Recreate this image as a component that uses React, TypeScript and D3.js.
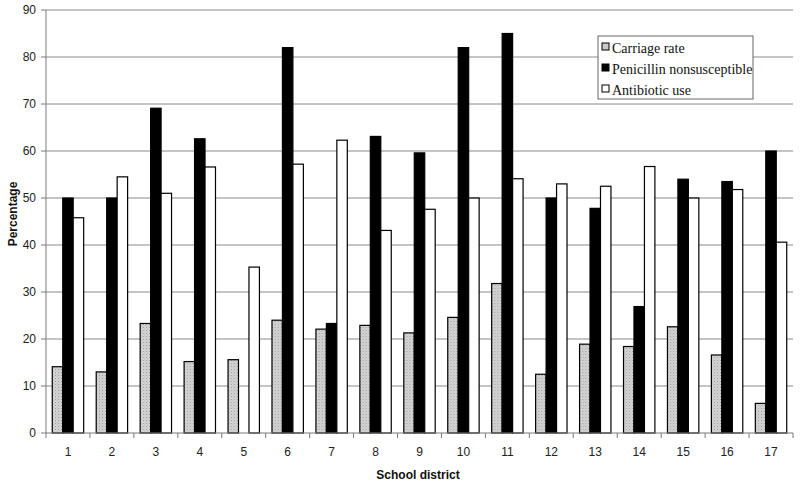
import React from "react";
import * as d3 from "d3";

const districts = ["1","2","3","4","5","6","7","8","9","10","11","12","13","14","15","16","17"];
const seriesNames = ["Carriage rate", "Penicillin nonsusceptible", "Antibiotic use"];
const carriageRate = [14.1, 13.0, 23.3, 15.2, 15.6, 24.0, 22.1, 22.9, 21.3, 24.6, 31.8, 12.5, 18.9, 18.4, 22.6, 16.6, 6.3];
const penicillinNonsusceptible = [50, 50, 69.1, 62.6, 0, 82, 23.3, 63.1, 59.6, 82, 85, 50, 47.8, 26.9, 54, 53.5, 60];
const antibioticUse = [45.8, 54.5, 51.0, 56.6, 35.3, 57.2, 62.3, 43.1, 47.6, 50, 54.1, 53, 52.5, 56.7, 50, 51.8, 40.6];
const yTicks = [0, 10, 20, 30, 40, 50, 60, 70, 80, 90];

const fills = ["#c9c9c9", "#000000", "#ffffff"];

export default function App() {
  const W = 800, H = 484;
  const left = 46, right = 793, top = 10, bottom = 433;
  const x0 = d3.scaleBand<string>().domain(districts).range([left, right]).paddingInner(0).paddingOuter(0);
  const x1 = d3.scaleBand<string>().domain(seriesNames).range([0, x0.bandwidth()]).paddingInner(0).paddingOuter(0.6);
  const y = d3.scaleLinear().domain([0, 90]).range([bottom, top]);
  const seriesData = [carriageRate, penicillinNonsusceptible, antibioticUse];

  const tickXs = d3.range(districts.length + 1).map(i => left + i * x0.step());

  return (
    <svg width={W} height={H} style={{ position: "absolute", left: 0, top: 0, background: "#fff" }}>
      <defs>
        <pattern id="stipple" width="3" height="3" patternUnits="userSpaceOnUse">
          <rect width="3" height="3" fill="#d6d6d6" />
          <rect x="0" y="0" width="1" height="1" fill="#9a9a9a" />
          <rect x="1.5" y="1.5" width="1" height="1" fill="#b0b0b0" />
        </pattern>
      </defs>
      {/* gridlines */}
      {yTicks.filter(t => t > 0).map(t => (
        <line key={t} x1={left} x2={right} y1={y(t)} y2={y(t)} stroke="#8a8a8a" strokeWidth={1} />
      ))}
      {/* bars */}
      {districts.map((d, i) => (
        <g key={d} transform={`translate(${x0(d)},0)`}>
          {seriesNames.map((s, j) => {
            const v = seriesData[j][i];
            if (!v) return null;
            return (
              <rect key={s} x={x1(s)} y={y(v)} width={x1.bandwidth()} height={y(0) - y(v)}
                fill={j === 0 ? "url(#stipple)" : fills[j]} stroke="#000" strokeWidth={1.2} />
            );
          })}
        </g>
      ))}
      {/* axes */}
      <line x1={left} x2={left} y1={top} y2={bottom} stroke="#7a7a7a" strokeWidth={1} />
      <line x1={left} x2={right} y1={bottom} y2={bottom} stroke="#7a7a7a" strokeWidth={1} />
      {yTicks.map(t => (
        <g key={t}>
          <line x1={left - 5} x2={left} y1={y(t)} y2={y(t)} stroke="#7a7a7a" />
          <text x={36} y={y(t)} dy="0.35em" textAnchor="end" fontFamily="Liberation Sans, Arial, sans-serif" fontSize={12} fill="#222">{t}</text>
        </g>
      ))}
      {tickXs.map((tx, i) => (
        <line key={i} x1={tx} x2={tx} y1={bottom} y2={bottom + 5} stroke="#7a7a7a" />
      ))}
      {districts.map(d => (
        <text key={d} x={(x0(d) as number) + x0.bandwidth() / 2} y={452} dy="0.35em" textAnchor="middle"
          fontFamily="Liberation Sans, Arial, sans-serif" fontSize={12} fill="#222">{d}</text>
      ))}
      <text x={418} y={475} dy="0.35em" textAnchor="middle" fontFamily="Liberation Sans, Arial, sans-serif" fontSize={12} fontWeight="bold" fill="#111">School district</text>
      <text transform={`translate(13,214) rotate(-90)`} dy="0.35em" textAnchor="middle" fontFamily="Liberation Sans, Arial, sans-serif" fontSize={12} fontWeight="bold" fill="#111">Percentage</text>
      {/* legend */}
      <g>
        <rect x={598} y={36} width={155} height={63} fill="#fff" stroke="#666" strokeWidth={1} />
        {seriesNames.map((s, j) => (
          <g key={s} transform={`translate(602, ${49 + j * 21})`}>
            <rect x={0} y={-6} width={7} height={7} fill={j === 0 ? "#c9c9c9" : fills[j]} stroke="#000" strokeWidth={1} />
            <text x={10} y={0} dy="0.3em" fontFamily="Liberation Serif, Times New Roman, serif" fontSize={14} fill="#111">{s}</text>
          </g>
        ))}
      </g>
    </svg>
  );
}
